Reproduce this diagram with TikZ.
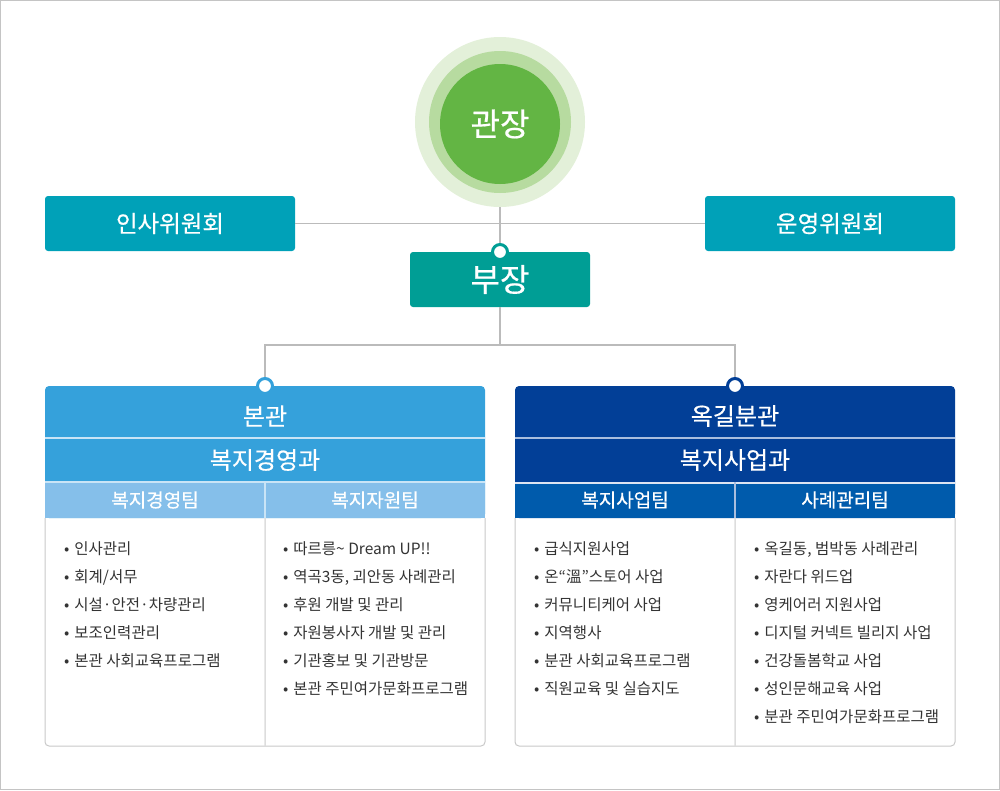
\documentclass[tikz,border=0pt]{standalone}
\usepackage{fontspec}
\setmainfont{Noto Sans CJK KR}
\newfontfamily\hdrfont[FakeBold=0.5]{Noto Sans CJK KR}
\definecolor{lineg}{HTML}{BBBBBB}
\definecolor{frameg}{HTML}{C4C4C4}
\definecolor{circA}{HTML}{E3F0D9}
\definecolor{circB}{HTML}{B7DBA0}
\definecolor{circC}{HTML}{63B544}
\definecolor{comm}{HTML}{00A1B8}
\definecolor{vicec}{HTML}{009E95}
\definecolor{lhead}{HTML}{35A1DB}
\definecolor{lteam}{HTML}{85BFEA}
\definecolor{lsep}{HTML}{C9E4F6}
\definecolor{rhead}{HTML}{023F97}
\definecolor{rteam}{HTML}{005BAC}
\definecolor{rsep}{HTML}{A9BEDE}
\definecolor{bodyg}{HTML}{C8C8C8}
\definecolor{divg}{HTML}{DDDDDD}
\definecolor{txt}{HTML}{333333}
\begin{document}
\begin{tikzpicture}[x=1pt,y=-1pt,
  conn/.style={draw=lineg, line width=1.2pt},
  ring/.style={circle, inner sep=0pt, outer sep=0pt},
  commbox/.style={rectangle, rounded corners=3pt, fill=comm, text=white, minimum width=250pt, minimum height=55pt, inner sep=0pt, font=\hdrfont\fontsize{23.5}{26}\selectfont},
  vicebox/.style={rectangle, rounded corners=3pt, fill=vicec, text=white, minimum width=180pt, minimum height=55pt, inner sep=0pt, font=\hdrfont\fontsize{32}{34}\selectfont},
  hdrtext/.style={rectangle, text=white, minimum width=440pt, inner sep=0pt, font=\hdrfont\fontsize{24}{26}\selectfont},
  teamcell/.style={rectangle, text=white, minimum width=220pt, minimum height=36pt, inner sep=0pt, font=\hdrfont\fontsize{19}{22}\selectfont},
  dotc/.style={circle, fill=white, line width=3pt, minimum size=15pt, inner sep=0pt},
  item/.style={anchor=base west, inner sep=0pt, text=txt, font=\fontsize{15.5}{18}\selectfont},
  bodyline/.style={draw=bodyg, line width=1pt},
  divline/.style={draw=divg, line width=1.5pt}
]
\useasboundingbox (0,0) rectangle (1000,790);
\draw[frameg, line width=1pt] (0.5,0.5) rectangle (999.5,789.5);

% chief
\node[ring, fill=circA, minimum size=170pt] (ringA) at (500,122) {};
\node[ring, fill=circB, minimum size=142pt] (ringB) at (500,122) {};
\node[ring, fill=circC, minimum size=120pt, text=white, font=\hdrfont\fontsize{32}{34}\selectfont] (chief) at (500,124) {관장};

% committees and vice
\node[commbox] (insa) at (170,223.5) {인사위원회};
\node[commbox] (unyoung) at (830,223.5) {운영위원회};
\node[vicebox] (vice) at (500,279.5) {부장};
\draw[conn] (insa.east) -- (unyoung.west);
\draw[conn] (ringA.south) -- (vice.north);

% box fills
\fill[lhead, rounded corners=4pt] (45,518) -- (45,386) -- (485,386) -- (485,518) -- cycle;
\fill[rhead, rounded corners=4pt] (515,518) -- (515,386) -- (955,386) -- (955,518) -- cycle;
\node[hdrtext] (bon) at (265,416) {본관};
\node[hdrtext] (bonsub) at (265,460) {복지경영과};
\node[hdrtext] (ok) at (735,416) {옥길분관};
\node[hdrtext] (oksub) at (735,460) {복지사업과};
\node[teamcell, fill=lteam] (lt1) at (155,500) {복지경영팀};
\node[teamcell, fill=lteam] (lt2) at (375,500) {복지자원팀};
\node[teamcell, fill=rteam] (rt1) at (625,500) {복지사업팀};
\node[teamcell, fill=rteam] (rt2) at (845,500) {사례관리팀};
\draw[lsep, line width=1.2pt] (45,438) -- (485,438);
\draw[lsep, line width=1.2pt] (45,482) -- (485,482);
\draw[lsep, line width=1.5pt] (lt1.north east) -- (lt1.south east);
\draw[rsep, line width=1.2pt] (515,438) -- (955,438);
\draw[rsep!40!white, line width=1.2pt] (515,483) -- (955,483);
\draw[rsep, line width=1.5pt] (rt1.north east) -- (rt1.south east);

% bodies
\draw[bodyline, rounded corners=4pt] (45,518) -- (45,746) -- (485,746) -- (485,518);
\draw[bodyline, rounded corners=4pt] (515,518) -- (515,746) -- (955,746) -- (955,518);
\draw[divline] (lt1.south east) -- (265,746);
\draw[divline] (rt1.south east) -- (735,746);

% connectors to branches
\coordinate (split) at (500,345);
\draw[conn] (vice.south) -- (split);
\draw[conn] (265,386) |- (split) -| (735,386);
\node[dotc, draw=vicec] (vicedot) at (500,252) {};
\node[dotc, draw=lhead] (bondot) at (265,386) {};
\node[dotc, draw=rhead] (okdot) at (735,386) {};

% lists
\foreach \t [count=\i] in {인사관리, 회계/서무, 시설·안전·차량관리, 보조인력관리, 본관 사회교육프로그램}
  \node[item] (la\i) at (64,554+28*\i-28) {•\hspace{5pt}\t};
\foreach \t [count=\i] in {따르릉\char`\~{} Dream UP!!, {역곡3동, 괴안동 사례관리}, 후원 개발 및 관리, 자원봉사자 개발 및 관리, 기관홍보 및 기관방문, 본관 주민여가문화프로그램}
  \node[item] (lb\i) at (283,554+28*\i-28) {•\hspace{5pt}\t};
\foreach \t [count=\i] in {급식지원사업, 온“溫”스토어 사업, 커뮤니티케어 사업, 지역행사, 분관 사회교육프로그램, 직원교육 및 실습지도}
  \node[item] (lc\i) at (534,554+28*\i-28) {•\hspace{5pt}\t};
\foreach \t [count=\i] in {{옥길동, 범박동 사례관리}, 자란다 위드업, 영케어러 지원사업, 디지털 커넥트 빌리지 사업, 건강돌봄학교 사업, 성인문해교육 사업, 분관 주민여가문화프로그램}
  \node[item] (ld\i) at (754,554+28*\i-28) {•\hspace{5pt}\t};
\end{tikzpicture}
\end{document}
